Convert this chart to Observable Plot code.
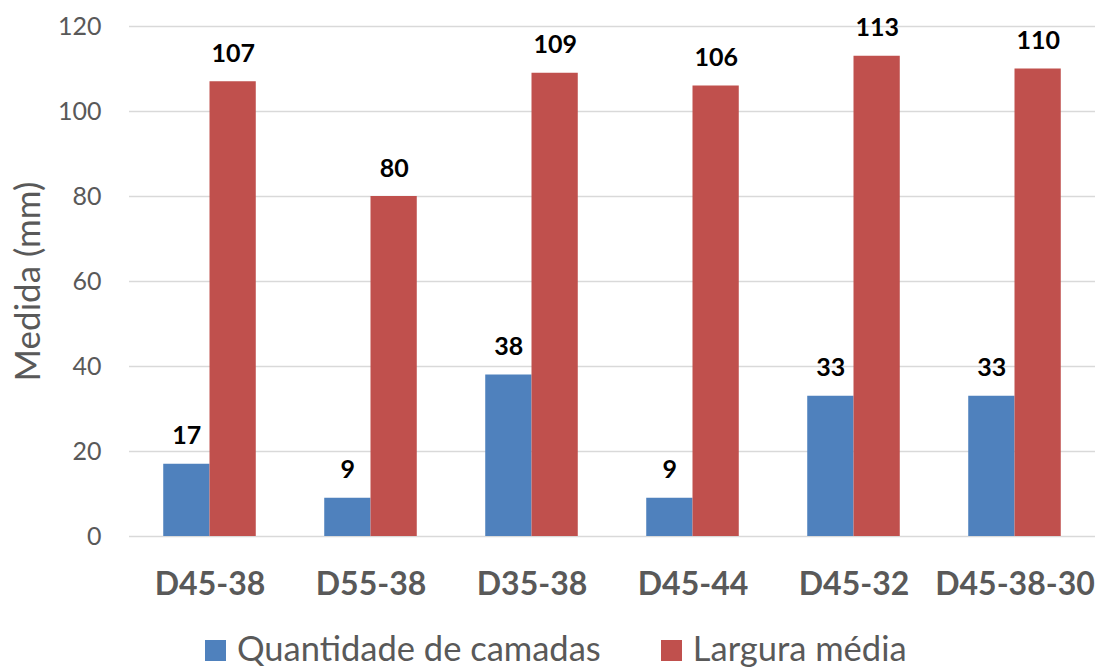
<!DOCTYPE html>
<html><head><meta charset="utf-8">
<script src="https://cdn.jsdelivr.net/npm/d3@7"></script>
<script src="https://cdn.jsdelivr.net/npm/@observablehq/plot@0.6"></script>
<style>
body{margin:0;background:#fff;font-family:Lato,"Open Sans",sans-serif;overflow:hidden;}
#legend{display:flex;justify-content:flex-start;height:64px;align-items:center;font-size:34.5px;line-height:1;color:#595959;padding-left:205px;}
.item{display:flex;align-items:center;margin-right:60px;}
.sw{width:21px;height:21px;margin-right:11px;margin-top:5px;}
</style></head><body>
<div id="chart"></div>
<div id="legend"></div>
<script>
const categories = ["D45-38","D55-38","D35-38","D45-44","D45-32","D45-38-30"];
const series = ["Quantidade de camadas","Largura média"];
const camadas = [17,9,38,9,33,33];
const largura = [107,80,109,106,113,110];
const colors = ["#4F81BD","#C0504D"];
const yTicks = [0,20,40,60,80,100,120];

const data = [];
categories.forEach((c,i)=>{
  data.push({cat:c, s:series[0], v:camadas[i]});
  data.push({cat:c, s:series[1], v:largura[i]});
});

const plot = Plot.plot({
  width:1097, height:616,
  marginLeft:127, marginRight:0, marginTop:26, marginBottom:80,
  style:{fontFamily:"Lato, 'Open Sans', sans-serif", background:"#fff"},
  fx:{domain:categories, padding:0, label:null},
  x:{domain:series, paddingInner:0, paddingOuter:0.74, axis:null, round:false},
  y:{domain:[0,120], ticks:yTicks, label:null},
  color:{domain:series, range:colors},
  marks:[
    Plot.ruleY(yTicks,{stroke:"#D9D9D9", strokeWidth:1.5}),
    Plot.barY(data,{fx:"cat", x:"s", y:"v", fill:"s"}),
    Plot.text(data,{fx:"cat", x:"s", y:"v", text:d=>String(d.v), lineAnchor:"bottom", dy:-20, fontSize:25, fontWeight:"bold", fill:"#000"}),
    Plot.axisY({ticks:yTicks, tickSize:0, tickPadding:28, fontSize:25, color:"#595959", label:null}),
    Plot.axisY({ticks:[], tickSize:0, label:"Medida (mm)", labelArrow:"none", labelAnchor:"center", labelOffset:114, fontSize:35, color:"#595959"}),
    Plot.axisFx({anchor:"bottom", tickSize:0, tickPadding:36, fontSize:32, fontWeight:"bold", color:"#595959", label:null})
  ]
});
document.getElementById("chart").appendChild(plot);

const lg = document.getElementById("legend");
series.forEach((s,i)=>{
  const it=document.createElement("div"); it.className="item";
  const sw=document.createElement("div"); sw.className="sw"; sw.style.background=colors[i];
  const t=document.createElement("span"); t.textContent=s;
  it.appendChild(sw); it.appendChild(t); lg.appendChild(it);
});
</script>
</body></html>
